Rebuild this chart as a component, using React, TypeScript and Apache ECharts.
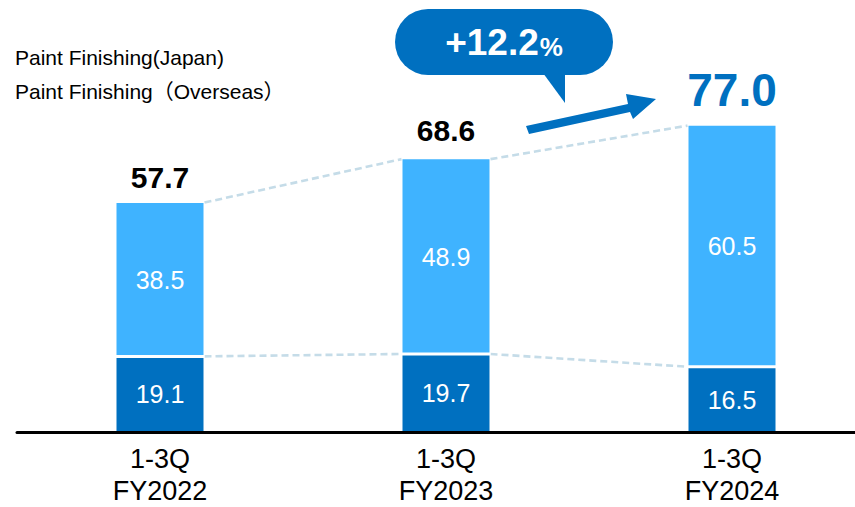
import React, { useEffect, useRef } from "react";
import * as echarts from "echarts";

const categories = ["1-3Q\nFY2022", "1-3Q\nFY2023", "1-3Q\nFY2024"];
const seriesNames = ["Paint Finishing(Japan)", "Paint Finishing（Overseas）"];
const japan = [19.1, 19.7, 16.5];
const overseas = [38.5, 48.9, 60.5];
const totals = [57.7, 68.6, 77.0];
const growthMain = "+12.2";
const growthUnit = "%";

const DARK = "#0070C0";
const LIGHT = "#3FB3FF";
const DASH = "#C5DCE8";
const FONT = "'Liberation Sans', Arial, 'Noto Sans CJK JP', sans-serif";
const BAR_W = 87;

export default function App() {
  const ref = useRef<HTMLDivElement>(null);

  useEffect(() => {
    document.body.style.margin = "0";
    const chart = echarts.init(ref.current!, null, { renderer: "svg" });
    const totalLabelStyles = [
      { fontSize: 30, color: "#000", distance: 10 },
      { fontSize: 30, color: "#000", distance: 13 },
      { fontSize: 46, color: DARK, distance: 12 },
    ];
    const fmt = (p: any) => Number(p.value).toFixed(1);
    chart.setOption({
      animation: false,
      grid: { left: 17, top: 34, width: 858, height: 398.5 },
      xAxis: {
        type: "category",
        data: categories,
        z: 5,
        axisLine: { lineStyle: { color: "#000", width: 3 } },
        axisTick: { show: false },
        axisLabel: {
          fontSize: 27,
          color: "#000",
          lineHeight: 32,
          margin: 10,
          fontFamily: FONT,
        },
      },
      yAxis: { type: "value", min: 0, max: 100, show: false },
      series: [
        {
          name: seriesNames[0],
          type: "bar",
          stack: "t",
          data: japan,
          barWidth: BAR_W,
          itemStyle: { color: DARK },
          label: {
            show: true,
            position: "inside",
            color: "#fff",
            fontSize: 25,
            fontFamily: FONT,
            formatter: fmt,
          },
        },
        {
          name: seriesNames[1],
          type: "bar",
          stack: "t",
          data: overseas,
          barWidth: BAR_W,
          itemStyle: { color: LIGHT },
          label: {
            show: true,
            position: "inside",
            color: "#fff",
            fontSize: 25,
            fontFamily: FONT,
            formatter: fmt,
          },
        },
        {
          name: "Total",
          type: "scatter",
          symbolSize: 1,
          silent: true,
          z: 6,
          itemStyle: { color: "rgba(0,0,0,0)", opacity: 1 },
          data: totals.map((v, i) => ({
            value: v,
            label: totalLabelStyles[i],
          })),
          label: {
            show: true,
            position: "top",
            fontWeight: "bold",
            fontFamily: FONT,
            opacity: 1,
            formatter: fmt,
          },
        },
      ],
    });

    const px = (i: number, v: number) =>
      chart.convertToPixel({ gridIndex: 0 }, [i, v]) as number[];
    const half = BAR_W / 2;
    const graphics: any[] = [];

    // dashed connectors
    for (let i = 0; i < categories.length - 1; i++) {
      for (const vals of [totals, japan]) {
        const a = px(i, vals[i]);
        const b = px(i + 1, vals[i + 1]);
        graphics.push({
          type: "line",
          z: 1,
          shape: { x1: a[0] + half + 1, y1: a[1], x2: b[0] - half - 1, y2: b[1] },
          style: { stroke: DASH, lineWidth: 2.6, lineDash: [7, 4] },
        });
      }
    }
    // white separators between segments
    for (let i = 0; i < categories.length; i++) {
      const p = px(i, japan[i]);
      graphics.push({
        type: "rect",
        z: 10,
        shape: { x: p[0] - half - 1, y: p[1] - 1.5, width: BAR_W + 2, height: 3 },
        style: { fill: "#fff" },
      });
    }
    // legend-like texts
    graphics.push(
      {
        type: "text",
        x: 15,
        y: 57,
        style: { text: seriesNames[0], fontSize: 21, fontFamily: FONT, fill: "#000", verticalAlign: "middle" },
      },
      {
        type: "text",
        x: 15,
        y: 91,
        style: { text: seriesNames[1], fontSize: 21, fontFamily: FONT, fill: "#000", verticalAlign: "middle" },
      }
    );
    // callout bubble
    graphics.push(
      {
        type: "rect",
        z: 10,
        shape: { x: 395, y: 9, width: 218, height: 66, r: 33 },
        style: { fill: DARK },
      },
      {
        type: "polygon",
        z: 10,
        shape: { points: [[543, 73], [565, 73], [565, 103]] },
        style: { fill: DARK },
      },
      {
        type: "text",
        z: 11,
        x: 504,
        y: 42,
        style: {
          text: `{a|${growthMain}}{b|${growthUnit}}`,
          align: "center",
          verticalAlign: "middle",
          fill: "#fff",
          rich: {
            a: { fontSize: 37, fontWeight: "bold", fontFamily: FONT, color: "#fff", verticalAlign: "bottom" },
            b: { fontSize: 26, fontWeight: "bold", fontFamily: FONT, color: "#fff", verticalAlign: "bottom", padding: [0, 0, 1, 1] },
          },
        },
      },
      {
        type: "polygon",
        z: 10,
        shape: {
          points: [
            [526, 126],
            [628, 104],
            [626, 94],
            [656, 99],
            [633, 119],
            [630, 112],
            [529, 134],
          ],
        },
        style: { fill: DARK },
      }
    );
    chart.setOption({ graphic: graphics });

    return () => chart.dispose();
  }, []);

  return (
    <div
      style={{
        position: "absolute",
        left: 0,
        top: 0,
        width: 855,
        height: 507,
        overflow: "hidden",
      }}
    >
      <div ref={ref} style={{ width: 900, height: 507 }} />
    </div>
  );
}
